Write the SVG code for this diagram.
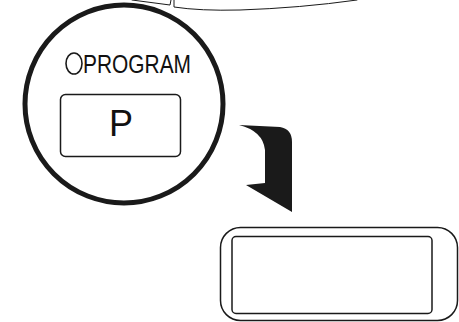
<svg xmlns="http://www.w3.org/2000/svg" width="459" height="322" viewBox="0 0 459 322">
<style>
.ln{fill:none;stroke:#1a1a1a;stroke-linecap:round;stroke-linejoin:round}
.txt{font-family:"Liberation Sans",Arial,sans-serif;fill:#111}
</style>
<rect width="459" height="322" fill="#fff"/>
<g id="top-device">
<path class="ln" stroke-width="1" d="M132,0 L170,5 L171,0"/>
<path class="ln" stroke-width="1" d="M174,0 L174,7 Q200,11 240,10 Q300,8 357,0"/>
</g>
<g id="program-callout">
<circle class="ln" cx="124" cy="104" r="99" stroke-width="5"/>
<ellipse class="ln" cx="74" cy="63.5" rx="8" ry="10.5" stroke-width="1.6"/>
<text class="txt" x="83" y="72.5" font-size="25" textLength="108" lengthAdjust="spacingAndGlyphs">PROGRAM</text>
<rect class="ln" x="60.5" y="94.5" width="120" height="62" rx="5" stroke-width="1.5"/>
<text class="txt" x="121" y="136" font-size="36" text-anchor="middle">P</text>
</g>
<g id="connectors">
<path fill="#1a1a1a" d="M239,125 L280,127 Q292,129 292,142 L292,212 L246,185 L265,183 L265,150 Q263,131 239,125 Z"/>
</g>
<g id="display">
<rect class="ln" x="220.5" y="227.5" width="237" height="93" rx="20" stroke-width="1.5"/>
<rect class="ln" x="232" y="236.5" width="200" height="77" rx="4" stroke-width="1.5"/>
</g>
</svg>
